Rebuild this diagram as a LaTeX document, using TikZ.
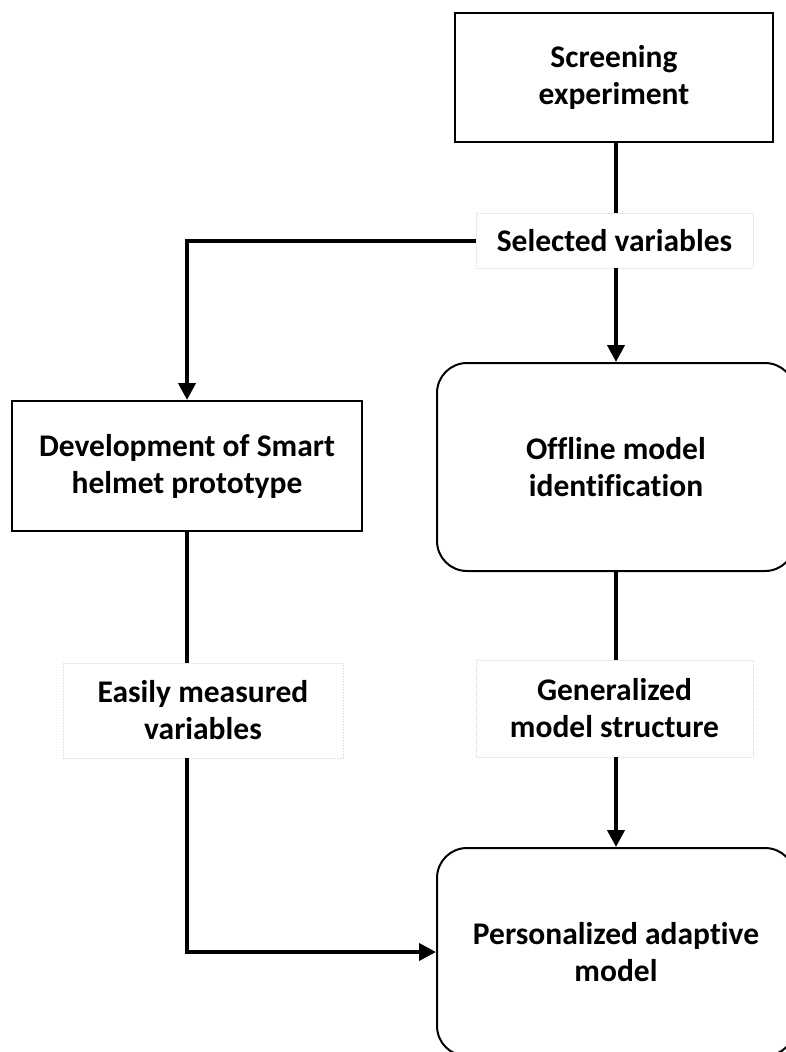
\documentclass[tikz,border=0pt]{standalone}
\usepackage{fontspec}
\setmainfont[Ligatures=NoCommon]{Carlito}
\usetikzlibrary{arrows.meta,calc}
\begin{document}
\begin{tikzpicture}[x=1pt,y=-1pt,
  txt/.style={font=\bfseries\fontsize{31.5}{37}\selectfont, align=center, inner sep=0pt},
  sqbox/.style={txt, draw, line width=2pt, minimum width=#1},
  rbox/.style={txt, draw, line width=2pt, rounded corners=30pt},
  lbl/.style={txt, draw=black!12, densely dotted, line width=0.6pt},
  conn/.style={line width=4pt},
  arr/.style={line width=4pt, -{Triangle[width=17pt,length=17pt]}}]
\useasboundingbox (0,0) rectangle (785,1052);
\fill[white] (0,0) rectangle (785,1052);
% boxes
\node[sqbox=318pt, minimum height=129pt] (scr) at (614,77.5) {Screening\\experiment};
\node[lbl, minimum width=277pt, minimum height=55pt] (sel) at (614.5,240.5) {Selected variables};
\node[sqbox=350pt, minimum height=130pt] (dev) at (187,466) {Development of Smart\\helmet prototype};
\node[rbox, minimum width=358pt, minimum height=208pt] (off) at (616,467) {Offline model\\identification};
\node[lbl, minimum width=280pt, minimum height=95pt] (eas) at (203,710.5) {Easily measured\\variables};
\node[lbl, minimum width=277pt, minimum height=97pt] (gen) at (614.5,708.5) {Generalized\\model structure};
\node[rbox, minimum width=358pt, minimum height=208pt] (per) at (616,952) {Personalized adaptive\\model};
% connectors
\draw[conn] (scr.south -| off.north) -- (sel.north -| off.north);
\draw[arr] (sel.west) -| (dev.north);
\draw[arr] (sel.south -| off.north) -- (off.north);
\draw[conn] (off.south) -- (gen.north -| off.south);
\draw[arr] (gen.south -| per.north) -- (per.north);
\draw[conn] (dev.south) -- (eas.north -| dev.south);
\draw[arr] (eas.south -| dev.south) |- (per.west);
\end{tikzpicture}
\end{document}
